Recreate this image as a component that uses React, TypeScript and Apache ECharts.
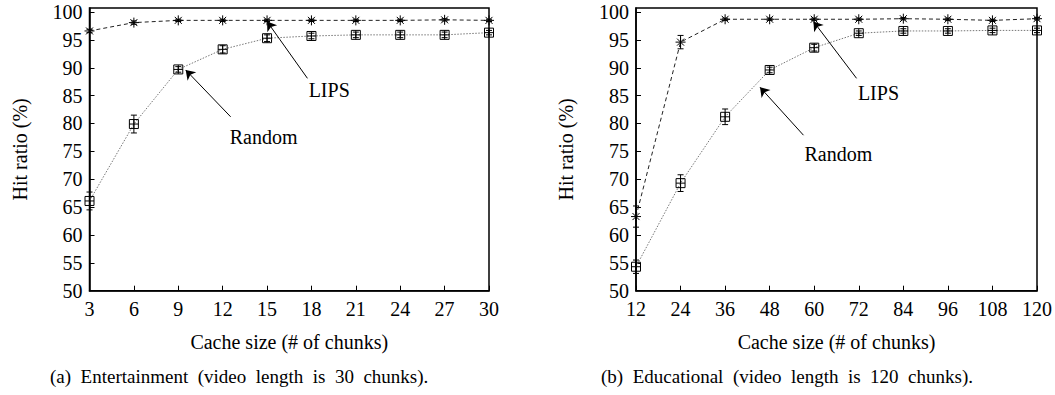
import React, { useEffect, useRef } from "react";
import * as echarts from "echarts";

// ---------- data ----------
const xA = [3, 6, 9, 12, 15, 18, 21, 24, 27, 30];
const lipsA = [96.6, 98.1, 98.5, 98.5, 98.5, 98.5, 98.5, 98.5, 98.6, 98.5];
const lipsAErr = [0.3, 0.3, 0.2, 0.2, 0.2, 0.2, 0.2, 0.2, 0.2, 0.2];
const randomA = [66.1, 79.9, 89.7, 93.3, 95.3, 95.7, 95.9, 95.9, 95.9, 96.3];
const randomAErr = [1.6, 1.6, 0.5, 0.65, 0.6, 0.5, 0.5, 0.5, 0.5, 0.4];

const xB = [12, 24, 36, 48, 60, 72, 84, 96, 108, 120];
const lipsB = [63.3, 94.6, 98.7, 98.7, 98.7, 98.7, 98.8, 98.7, 98.5, 98.8];
const lipsBErr = [1.9, 1.2, 0.2, 0.2, 0.2, 0.2, 0.2, 0.2, 0.2, 0.2];
const randomB = [54.3, 69.3, 81.2, 89.6, 93.6, 96.2, 96.6, 96.6, 96.7, 96.7];
const randomBErr = [1.2, 1.5, 1.4, 0.5, 0.6, 0.4, 0.4, 0.4, 0.4, 0.4];

const yTicks = [50, 55, 60, 65, 70, 75, 80, 85, 90, 95, 100];

// annotation arrows: [tailX, tailY, headX, headY], text: [x, y]
const arrowLipsA = [17.73, 88.1, 15.0, 98.3];
const textLipsA = [19.2, 86.0];
const arrowRandomA = [12.54, 81.2, 9.5, 89.6];
const textRandomA = [14.77, 77.6];
const arrowLipsB = [71.4, 88.1, 59.8, 98.3];
const textLipsB = [77.3, 85.5];
const arrowRandomB = [57.1, 77.9, 45.4, 86.5];
const textRandomB = [66.5, 74.6];

const captionA = "(a)  Entertainment  (video  length  is  30  chunks).";
const captionB = "(b)  Educational  (video  length  is  120  chunks).";
const xTitle = "Cache size (# of chunks)";
const yTitle = "Hit ratio (%)";

const FONT = "Liberation Serif";

const asteriskPath = "path://M0,5L10,5M5,0L5,10M1.5,1.5L8.5,8.5M8.5,1.5L1.5,8.5";
const boxPlusPath = "path://M0,0L10,0L10,10L0,10ZM5,0L5,10M0,5L10,5";

function errData(xs: number[], ys: number[], es: number[]) {
  return xs.map((x, i) => [x, ys[i] - es[i], ys[i] + es[i]]);
}

function errorSeries(data: number[][]) {
  return {
    type: "custom",
    z: 5,
    clip: false,
    data,
    encode: { x: 0, y: [1, 2] },
    renderItem: (params: any, api: any) => {
      const x = api.value(0);
      const top = api.coord([x, api.value(2)]);
      const bot = api.coord([x, api.value(1)]);
      const w = 3;
      return {
        type: "group",
        children: [
          { type: "line", shape: { x1: top[0], y1: top[1], x2: bot[0], y2: bot[1] }, style: { stroke: "#000", lineWidth: 1 } },
          { type: "line", shape: { x1: top[0] - w, y1: top[1], x2: top[0] + w, y2: top[1] }, style: { stroke: "#000", lineWidth: 1 } },
          { type: "line", shape: { x1: bot[0] - w, y1: bot[1], x2: bot[0] + w, y2: bot[1] }, style: { stroke: "#000", lineWidth: 1 } },
        ],
      };
    },
  };
}

function lineSeries(xs: number[], ys: number[], lips: boolean, arrow: number[], text: number[]) {
  return {
    type: "line",
    clip: false,
    z: 4,
    data: xs.map((x, i) => [x, ys[i]]),
    symbol: lips ? asteriskPath : boxPlusPath,
    symbolSize: lips ? 10 : 9,
    showAllSymbol: true,
    itemStyle: { color: "rgba(0,0,0,0)", borderColor: "#000", borderWidth: 1 },
    lineStyle: lips
      ? { color: "#222", width: 1, type: [4, 3] }
      : { color: "#777", width: 1, type: [1.5, 1.5] },
    markLine: {
      silent: true,
      symbol: ["none", "arrow"],
      symbolSize: 9,
      label: { show: false },
      itemStyle: { color: "#000" },
      lineStyle: { color: "#000", type: "solid", width: 1 },
      data: [[{ coord: [arrow[0], arrow[1]] }, { coord: [arrow[2], arrow[3]] }]],
    },
    markPoint: {
      silent: true,
      symbol: "rect",
      symbolSize: [1, 1],
      itemStyle: { color: "rgba(0,0,0,0)" },
      label: {
        show: true,
        position: "inside",
        formatter: lips ? "LIPS" : "Random",
        color: "#000",
        fontFamily: FONT,
        fontSize: 20,
      },
      data: [{ coord: [text[0], text[1]], value: 0 }],
    },
  };
}

function makeOption(
  gridLeft: number,
  gridWidth: number,
  xmin: number,
  xmax: number,
  xint: number,
  xs: number[],
  lips: number[],
  lipsErr: number[],
  rnd: number[],
  rndErr: number[],
  arrows: number[][],
  caption: string,
  captionLeft: number
) {
  const lbl = { color: "#000", fontFamily: FONT, fontSize: 20 };
  return {
    animation: false,
    backgroundColor: "#fff",
    grid: {
      left: gridLeft,
      top: 8,
      width: gridWidth,
      height: 282.7,
      show: true,
      borderColor: "#000",
      borderWidth: 1.5,
      backgroundColor: "rgba(0,0,0,0)",
    },
    xAxis: {
      type: "value",
      min: xmin,
      max: xmax,
      interval: xint,
      axisLine: { show: true, lineStyle: { color: "#000", width: 1.5 } },
      axisTick: { show: true, inside: true, length: 5, lineStyle: { color: "#000" } },
      axisLabel: { ...lbl, margin: 8 },
      splitLine: { show: false },
      name: xTitle,
      nameLocation: "middle",
      nameGap: 41,
      nameTextStyle: { ...lbl },
    },
    yAxis: {
      type: "value",
      min: 50,
      max: 100.72,
      interval: 5,
      axisLine: { show: true, lineStyle: { color: "#000", width: 1.5 } },
      axisTick: { show: true, inside: true, length: 5, lineStyle: { color: "#000" }, customValues: yTicks },
      axisLabel: { ...lbl, margin: 7, customValues: yTicks },
      splitLine: { show: false },
      name: yTitle,
      nameLocation: "middle",
      nameRotate: 90,
      nameGap: 60,
      nameTextStyle: { ...lbl },
    },
    series: [
      lineSeries(xs, rnd, false, arrows[2], arrows[3]),
      lineSeries(xs, lips, true, arrows[0], arrows[1]),
      errorSeries(errData(xs, rnd, rndErr)),
      errorSeries(errData(xs, lips, lipsErr)),
    ],
    graphic: [
      {
        type: "text",
        left: captionLeft,
        top: 367,
        style: { text: caption, fontFamily: FONT, fontSize: 19, fill: "#000" },
      },
    ],
  };
}

function Panel({ option, left, width }: { option: any; left: number; width: number }) {
  const ref = useRef<HTMLDivElement>(null);
  useEffect(() => {
    if (!ref.current) return;
    const chart = echarts.init(ref.current, undefined, { renderer: "svg" });
    chart.setOption(option);
    return () => chart.dispose();
  }, [option]);
  return <div ref={ref} style={{ position: "absolute", left, top: 0, width, height: 395 }} />;
}

const optionA = makeOption(89.5, 399.5, 3, 30, 3, xA, lipsA, lipsAErr, randomA, randomAErr,
  [arrowLipsA, textLipsA, arrowRandomA, textRandomA], captionA, 50);
const optionB = makeOption(109, 401.5, 12, 120, 12, xB, lipsB, lipsBErr, randomB, randomBErr,
  [arrowLipsB, textLipsB, arrowRandomB, textRandomB], captionB, 74);

export default function App() {
  return (
    <div style={{ position: "absolute", left: 0, top: 0, width: 1055, height: 395, background: "#fff" }}>
      <Panel option={optionA} left={0} width={527} />
      <Panel option={optionB} left={527} width={528} />
    </div>
  );
}
